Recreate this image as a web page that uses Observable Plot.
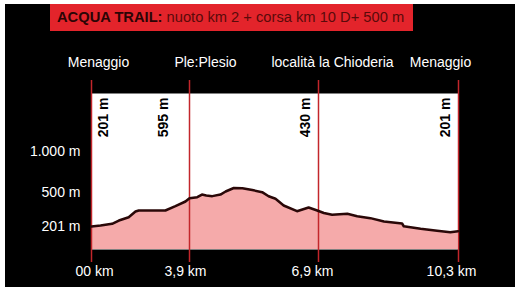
<!DOCTYPE html>
<html>
<head>
<meta charset="utf-8">
<script src="https://cdn.jsdelivr.net/npm/d3@7"></script>
<script src="https://cdn.jsdelivr.net/npm/@observablehq/plot@0.6"></script>
<style>
  html, body { margin: 0; padding: 0; background: #ffffff; }
  #box { position: absolute; left: 5px; top: 4px; width: 510px; height: 283px; background: #000; overflow: hidden; font-family: "Liberation Sans", Arial, sans-serif; }
  #title { position: absolute; left: 45px; top: 0; width: 356px; height: 27px; line-height: 27px; padding-left: 7px; background: #e3242b; font-size: 14.7px; color: #5a0a0a; white-space: nowrap; }
  #title b { color: #2b0505; }
  #chart { position: absolute; left: 0; top: 36px; }
</style>
</head>
<body>
<div id="box">
  <div id="title"><b>ACQUA TRAIL:</b> nuoto km 2 + corsa km 10 D+ 500 m</div>
  <div id="chart"></div>
</div>
<script>
// Elevation profile (km, m)
const km = [0, 0.36, 0.82, 1.09, 1.48, 1.75, 1.88, 2.94, 3.34, 3.74, 3.90, 4.08, 4.19, 4.29, 4.43, 4.62, 4.74, 4.93, 5.13, 5.36, 5.59, 5.74, 5.90, 6.09, 6.40, 6.67, 6.87, 7.03, 7.23, 7.60, 7.84, 8.16, 8.49, 8.93, 8.97, 9.38, 9.78, 10.10, 10.29];
const elevation = [201, 210, 225, 254, 283, 333, 342, 342, 380, 421, 450, 459, 482, 474, 468, 482, 512, 555, 552, 530, 504, 467, 445, 386, 336, 368, 342, 320, 304, 313, 292, 275, 246, 228, 204, 182, 164, 152, 161];

// Waypoints
const stopKm = [0, 3.9, 6.9, 10.3];
const stopNames = ["Menaggio", "Ple:Plesio", "località la Chioderia", "Menaggio"];
const stopElevLabels = ["201 m", "595 m", "430 m", "201 m"];
const kmLabels = ["00 km", "3,9 km", "6,9 km", "10,3 km"];

// Y ticks
const yTicks = [201, 500, 1000];
const yTickLabels = ["201 m", "500 m", "1.000 m"];

const profile = km.map((k, i) => ({km: k, m: elevation[i]}));
const stops = stopKm.map((k, i) => ({km: k, name: stopNames[i], elev: stopElevLabels[i], label: kmLabels[i]}));
const yt = yTicks.map((v, i) => ({v, label: yTickLabels[i]}));

const nameDx = [7, 16, 14, -18];
const elevDx = [12, -26, -13, -13];
const kmDx = [3, -4, -6, -7];
const font = "Liberation Sans, Arial, sans-serif";

const marks = [
  Plot.frame({fill: "#ffffff", stroke: null}),
  Plot.areaY(profile, {x: "km", y1: 0, y2: "m", fill: "#f5aaaa", curve: "linear"}),
  Plot.ruleX(stops, {x: "km", stroke: "#c3262b", strokeWidth: 1.5, insetTop: -13, insetBottom: -13}),
  Plot.line(profile, {x: "km", y: "m", stroke: "#2a0808", strokeWidth: 2.5, curve: "linear"}),
  Plot.text(yt, {y: "v", text: "label", frameAnchor: "left", textAnchor: "end", dx: -11, fill: "#ffffff", fontSize: 14, fontFamily: font})
];
stops.forEach((s, i) => {
  marks.push(Plot.text([s], {x: "km", text: "name", frameAnchor: "top", dy: -31, dx: nameDx[i], lineAnchor: "middle", fill: "#ffffff", fontSize: 14, fontFamily: font}));
  marks.push(Plot.text([s], {x: "km", text: "elev", frameAnchor: "top", dy: 24, dx: elevDx[i], rotate: -90, lineAnchor: "middle", textAnchor: "middle", fill: "#000000", fontWeight: "bold", fontSize: 14, fontFamily: font}));
  marks.push(Plot.text([s], {x: "km", text: "label", frameAnchor: "bottom", dy: 22.5, dx: kmDx[i], lineAnchor: "middle", fill: "#ffffff", fontSize: 14, fontFamily: font}));
});

const chart = Plot.plot({
  width: 510,
  height: 247,
  marginLeft: 86,
  marginRight: 57,
  marginTop: 53,
  marginBottom: 38,
  style: {background: "transparent", fontFamily: font},
  x: {type: "linear", domain: stopKm, range: [86, 184, 313, 453], axis: null},
  y: {type: "linear", domain: [0, 500, 1000], range: [209, 152, 111], axis: null},
  marks
});
document.getElementById("chart").appendChild(chart);
</script>
</body>
</html>
